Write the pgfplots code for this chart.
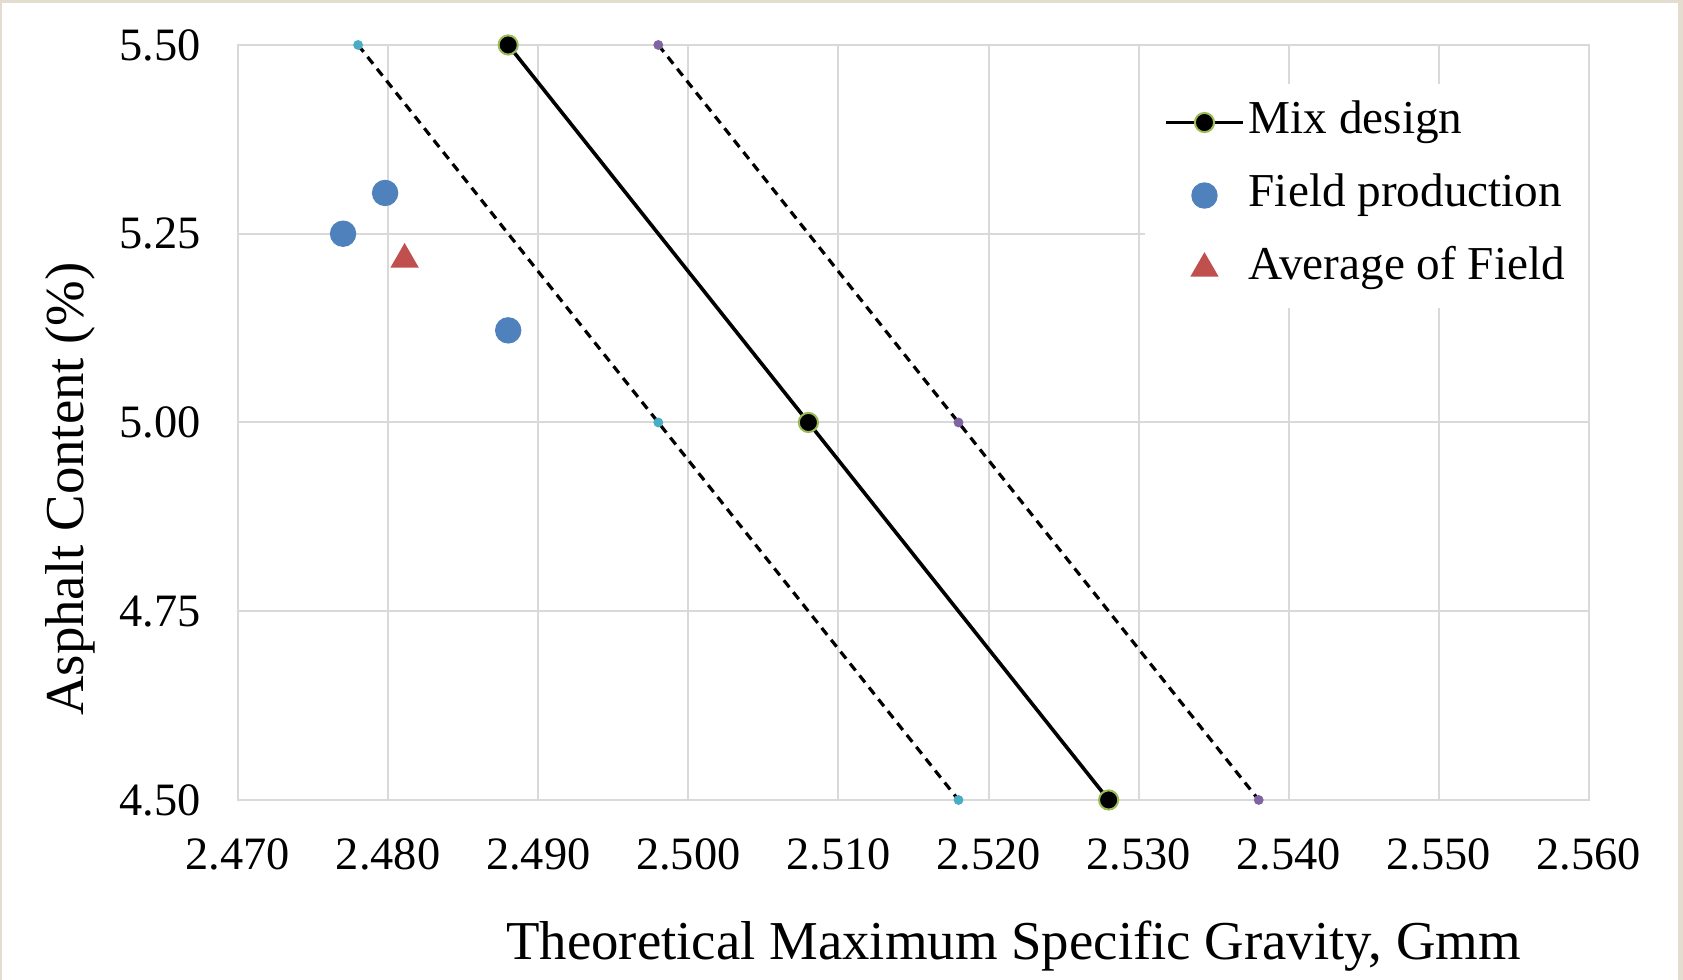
\documentclass[border=0pt]{standalone}
\usepackage{fontspec}
\setmainfont{Liberation Serif}
\usepackage{pgfplots}
\pgfplotsset{compat=1.18}
\definecolor{bgbeige}{RGB}{226,221,206}
\definecolor{gridgray}{RGB}{217,217,217}
\definecolor{fieldblue}{RGB}{79,129,189}
\definecolor{avgred}{RGB}{192,80,77}
\definecolor{edgegreen}{RGB}{155,187,89}
\definecolor{limcyan}{RGB}{75,172,198}
\definecolor{limpurple}{RGB}{128,100,162}

\begin{document}
\begin{tikzpicture}
\useasboundingbox (0,0) rectangle (420.75pt,245pt);
\fill[bgbeige] (0,0) rectangle (420.75pt,245pt);
\fill[white] (0.5pt,0) rectangle (419.5pt,244.25pt);
\begin{axis}[
  at={(59.5pt,45pt)}, anchor=south west,
  scale only axis, width=337.75pt, height=188.75pt,
  xmin=2.47, xmax=2.56, ymin=4.5, ymax=5.5,
  xtick={2.47,2.48,2.49,2.50,2.51,2.52,2.53,2.54,2.55,2.56},
  ytick={4.5,4.75,5,5.25,5.5},
  scaled ticks=false,
  grid=major, major grid style={gridgray, line width=0.5pt},
  axis line style={gridgray, line width=0.5pt},
  major tick length=0pt,
  /pgf/number format/assume math mode=true,
  x tick label style={/pgf/number format/.cd, fixed, fixed zerofill, precision=3, /tikz/.cd,
    font=\fontsize{11.6}{13.9}\selectfont, yshift=-6.2pt},
  y tick label style={/pgf/number format/.cd, fixed, fixed zerofill, precision=2, /tikz/.cd,
    font=\fontsize{11.6}{13.9}\selectfont, xshift=-5.8pt},
  xlabel={Theoretical Maximum Specific Gravity, Gmm},
  xlabel style={at={(axis description cs:0.574,-0.193)}, anchor=center,
    font=\fontsize{13.7}{16}\selectfont},
  ylabel={Asphalt Content (\%)},
  ylabel style={at={(axis description cs:-0.1243,0.412)}, anchor=center,
    font=\fontsize{13.7}{16}\selectfont},
  clip=false,
  legend image code/.code={\draw[mark repeat=2,mark phase=2]
    plot coordinates {(0pt,0pt)(9.6pt,0pt)(19.2pt,0pt)};},
  legend style={at={(1,0.9500)}, anchor=north east, draw=none, fill=white,
    inner xsep=4.8pt, inner ysep=3pt, row sep=4.75pt,
    font=\fontsize{11.8}{14}\selectfont,
    nodes={inner sep=1pt, text height=8.5pt, text depth=3pt},
    legend cell align=left},
]
% lower limit (dashed)
\addplot[black, line width=0.8pt, dash pattern=on 2.2pt off 1.6pt,
  mark=*, mark size=0.8pt, mark options={solid, fill=limcyan, draw=limcyan}, forget plot]
  coordinates {(2.478,5.50) (2.498,5.00) (2.518,4.50)};
% upper limit (dashed)
\addplot[black, line width=0.8pt, dash pattern=on 2.2pt off 1.6pt,
  mark=*, mark size=0.8pt, mark options={solid, fill=limpurple, draw=limpurple}, forget plot]
  coordinates {(2.498,5.50) (2.518,5.00) (2.538,4.50)};
% mix design
\addplot[black, line width=0.9pt, mark=*, mark size=2.4pt,
  mark options={fill=black, draw=edgegreen, line width=0.5pt}]
  coordinates {(2.488,5.50) (2.508,5.00) (2.528,4.50)};
\addlegendentry{Mix design}
% field production
\addplot[only marks, mark=*, mark size=3.1pt, fieldblue,
  mark options={fill=fieldblue, draw=fieldblue}]
  coordinates {(2.477,5.250) (2.4798,5.304) (2.488,5.122)};
\addlegendentry{Field production}
% average of field
\addplot[only marks, mark=triangle*, mark size=3.7pt, avgred,
  mark options={fill=avgred, draw=avgred}]
  coordinates {(2.4811,5.216)};
\addlegendentry{Average of Field}
\end{axis}
\end{tikzpicture}
\end{document}
